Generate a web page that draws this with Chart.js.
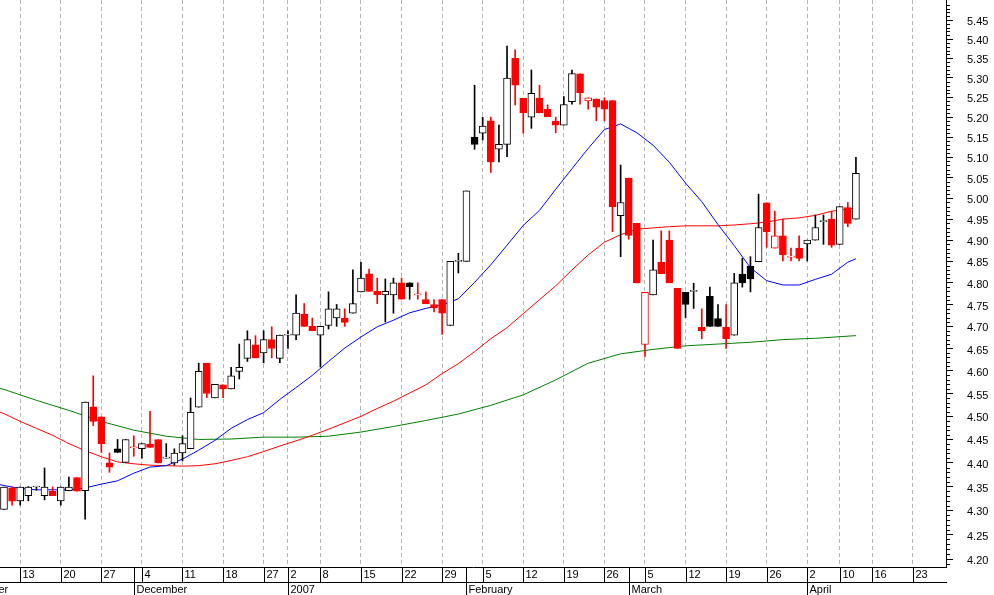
<!DOCTYPE html>
<html>
<head>
<meta charset="utf-8">
<script src="https://cdn.jsdelivr.net/npm/chart.js@4.4.1/dist/chart.umd.min.js"></script>
<style>
  html, body { margin: 0; padding: 0; background: #ffffff; }
  #wrap { width: 994px; height: 595px; position: relative; }
  canvas { display: block; }
</style>
</head>
<body>
<div id="wrap"><canvas id="chart" width="994" height="595"></canvas></div>
<script>
// ---- Daily OHLC (trading day index 0 = 9 Nov 2006 ... 105 = 12 Apr 2007) ----
const opens = [4.302,4.347,4.320,4.331,4.349,4.331,4.340,4.320,4.341,4.369,
4.341,4.521,4.499,4.400,4.430,4.401,4.432,4.430,4.440,4.450,
4.410,4.400,4.421,4.430,4.520,4.617,4.540,4.569,4.560,4.599,
4.628,4.658,4.640,4.670,4.628,4.680,4.680,4.728,4.700,4.680,
4.702,4.719,4.719,4.730,4.779,4.821,4.780,4.772,4.772,4.800,
4.800,4.772,4.761,4.750,4.761,4.702,4.850,4.850,5.150,5.160,
5.191,5.120,5.132,5.350,5.248,5.200,5.248,5.220,5.190,5.180,
5.239,5.310,5.241,5.246,5.242,5.242,4.958,5.049,4.940,4.659,
4.772,4.848,4.900,4.787,4.778,4.780,4.698,4.769,4.718,4.698,
4.680,4.820,4.839,4.849,4.989,4.881,4.910,4.860,4.881,4.891,
4.900,4.944,4.950,4.890,4.978,4.950];

const highs = [4.349,4.349,4.349,4.350,4.349,4.389,4.349,4.349,4.370,4.369,
4.531,4.589,4.499,4.421,4.450,4.450,4.458,4.441,4.511,4.450,
4.441,4.430,4.458,4.540,4.617,4.617,4.570,4.569,4.608,4.660,
4.690,4.679,4.690,4.699,4.680,4.690,4.772,4.752,4.719,4.700,
4.779,4.750,4.740,4.830,4.848,4.832,4.811,4.809,4.811,4.811,
4.800,4.800,4.779,4.761,4.761,4.850,4.869,5.018,5.281,5.200,
5.200,5.180,5.382,5.372,5.248,5.320,5.281,5.231,5.200,5.252,
5.320,5.310,5.249,5.246,5.249,5.242,5.081,5.049,4.940,4.778,
4.900,4.922,4.922,4.787,4.778,4.799,4.740,4.790,4.750,4.750,
4.822,4.857,4.861,5.010,4.989,4.969,4.950,4.881,4.910,4.900,
4.960,4.960,4.969,4.980,4.990,5.100];

const lows = [4.302,4.311,4.311,4.320,4.342,4.322,4.331,4.311,4.341,4.340,
4.282,4.480,4.422,4.380,4.422,4.401,4.414,4.410,4.433,4.400,
4.410,4.395,4.404,4.430,4.520,4.541,4.540,4.541,4.560,4.582,
4.621,4.629,4.618,4.629,4.618,4.650,4.670,4.700,4.690,4.609,
4.694,4.700,4.700,4.730,4.779,4.780,4.752,4.710,4.730,4.762,
4.762,4.762,4.752,4.733,4.682,4.702,4.823,4.850,5.120,5.143,
5.063,5.089,5.102,5.231,5.160,5.172,5.211,5.201,5.161,5.180,
5.233,5.233,5.220,5.191,5.191,4.920,4.861,4.902,4.800,4.632,
4.772,4.821,4.800,4.650,4.720,4.741,4.672,4.700,4.700,4.650,
4.680,4.790,4.779,4.849,4.883,4.881,4.851,4.851,4.851,4.851,
4.900,4.890,4.883,4.890,4.932,4.950];

const closes = [4.349,4.319,4.349,4.349,4.349,4.349,4.331,4.349,4.349,4.340,
4.531,4.489,4.441,4.391,4.422,4.450,4.432,4.441,4.433,4.400,
4.410,4.421,4.441,4.509,4.599,4.550,4.570,4.560,4.589,4.608,
4.670,4.629,4.670,4.650,4.680,4.680,4.730,4.700,4.690,4.700,
4.740,4.740,4.709,4.752,4.811,4.780,4.772,4.780,4.800,4.762,
4.791,4.772,4.752,4.742,4.730,4.850,4.850,5.018,5.132,5.178,
5.089,5.132,5.299,5.281,5.211,5.260,5.211,5.201,5.180,5.232,
5.311,5.262,5.249,5.225,5.220,4.980,4.990,4.911,4.800,4.778,
4.830,4.821,4.800,4.650,4.750,4.780,4.690,4.700,4.700,4.672,
4.800,4.800,4.809,4.930,4.920,4.910,4.865,4.860,4.857,4.900,
4.930,4.944,4.888,4.980,4.940,5.061];

// ---- Moving averages (at trading-day indices) ----
const blueIdx  = [-1,0,2,4,6,8,10,12,14,16,18,20,22,24,26,28,30,32,34,36,38,40,42,44,46,48,50,52,54,56,58,60,62,64,66,68,70,72,74,76,78,80,82,84,86,88,90,92,94,96,98,100,102,104,105];
const blueVals = [4.356,4.352,4.346,4.343,4.343,4.343,4.347,4.355,4.362,4.378,4.391,4.394,4.408,4.427,4.448,4.474,4.493,4.508,4.537,4.563,4.590,4.621,4.651,4.676,4.699,4.714,4.731,4.741,4.749,4.763,4.801,4.842,4.888,4.935,4.971,5.022,5.072,5.122,5.169,5.183,5.161,5.130,5.088,5.037,4.992,4.937,4.887,4.835,4.805,4.795,4.795,4.808,4.820,4.848,4.856];

const redIdx  = [-1,0,2,4,6,8,10,12,14,16,18,20,22,24,26,28,30,32,34,36,38,40,42,44,46,48,50,52,54,56,58,60,62,64,66,68,70,72,74,76,78,80,82,84,86,88,90,92,94,96,98,100,102,104,105];
const redVals = [4.512,4.506,4.489,4.474,4.459,4.441,4.426,4.413,4.402,4.398,4.395,4.394,4.393,4.394,4.398,4.405,4.413,4.424,4.436,4.447,4.459,4.472,4.486,4.500,4.517,4.533,4.551,4.569,4.594,4.616,4.643,4.672,4.697,4.729,4.761,4.793,4.830,4.865,4.895,4.913,4.926,4.929,4.932,4.934,4.934,4.934,4.936,4.939,4.943,4.950,4.953,4.959,4.969,4.974,4.977];

const greenIdx  = [-1,0,4,8,12,16,20,24,28,32,36,40,44,48,52,56,60,64,68,72,76,80,84,88,92,96,100,105];
const greenVals = [4.563,4.559,4.535,4.513,4.489,4.470,4.457,4.450,4.451,4.455,4.455,4.457,4.466,4.478,4.491,4.505,4.524,4.547,4.580,4.617,4.638,4.648,4.656,4.660,4.664,4.670,4.673,4.679];

// ---- Axis ticks ----
const yTickLabels = ['4.20','4.25','4.30','4.35','4.40','4.45','4.50','4.55','4.60','4.65','4.70','4.75','4.80','4.85','4.90','4.95','5.00','5.05','5.10','5.15','5.20','5.25','5.30','5.35','5.40','5.45'];
const weekTickIdx    = [2,7,12,17,22,27,32,35,39,44,49,54,59,64,69,74,79,84,89,94,99,103,107,112];
const weekTickLabels = ['13','20','27','4','11','18','27','2','8','15','22','29','5','12','19','26','5','12','19','26','2','10','16','23'];
const monthTickIdx    = [-6,16,35,57,77,99];
const monthTickLabels = ['November','December','2007','February','March','April'];

const X_MIN = -0.49, X_MAX = 116.1;
const Y_MIN = 4.184, Y_MAX = 5.503;
const FONT = '"Liberation Sans", Arial, Helvetica, sans-serif';

const RED = '#ff0000', BLACK = '#000000', WHITE = '#ffffff';
const idx = opens.map((_, i) => i);
function strokeColor(i) {
  const prev = i > 0 ? closes[i - 1] : opens[i];
  return closes[i] < prev ? RED : BLACK;
}
function fillColor(i) {
  return closes[i] < opens[i] ? strokeColor(i) : WHITE;
}

const axisBand = {
  id: 'axisBand',
  afterDraw(chart) {
    const { ctx, chartArea: a, scales } = chart;
    const xs = scales.x, ys = scales.y;
    const top = a.bottom, mid = a.bottom + 15, bot = chart.height;
    ctx.save();
    ctx.strokeStyle = BLACK; ctx.fillStyle = BLACK; ctx.lineWidth = 1;
    ctx.font = '11px ' + FONT;
    ctx.textBaseline = 'middle'; ctx.textAlign = 'left';
    ctx.beginPath(); ctx.moveTo(a.left, mid + 0.5); ctx.lineTo(a.right + 1, mid + 0.5); ctx.stroke();
    weekTickIdx.forEach((v, k) => {
      const px = Math.round(xs.getPixelForValue(v)) + 0.5;
      ctx.beginPath(); ctx.moveTo(px, top); ctx.lineTo(px, mid); ctx.stroke();
      ctx.fillText(weekTickLabels[k], px + 2, top + 8);
    });
    monthTickIdx.forEach((v, k) => {
      const px = Math.round(xs.getPixelForValue(v)) + 0.5;
      ctx.beginPath(); ctx.moveTo(px, top); ctx.lineTo(px, bot); ctx.stroke();
      ctx.fillText(monthTickLabels[k], px + 2, mid + 7.5);
    });
    // minor ticks on the price axis
    const first = Math.round(parseFloat(yTickLabels[0]) * 100) - 1;
    const last = Math.round(parseFloat(yTickLabels[yTickLabels.length - 1]) * 100) + 5;
    for (let k = first; k <= last; k++) {
      if (k % 5 === 0) continue;
      const py = Math.round(ys.getPixelForValue(k / 100)) + 0.5;
      if (py < a.top || py > a.bottom) continue;
      ctx.beginPath(); ctx.moveTo(a.right, py); ctx.lineTo(a.right + 4, py); ctx.stroke();
    }
    ctx.restore();
  }
};

new Chart(document.getElementById('chart').getContext('2d'), {
  type: 'bar',
  data: {
    datasets: [
      {
        label: 'Body',
        data: idx.map(i => ({ x: i, y: [opens[i], closes[i]] })),
        backgroundColor: idx.map(fillColor),
        borderColor: idx.map(strokeColor),
        borderWidth: 1,
        borderSkipped: false,
        barThickness: 7,
        minBarLength: 1,
        grouped: false,
        order: 0
      },
      {
        label: 'Range',
        data: idx.map(i => ({ x: i, y: [lows[i], highs[i]] })),
        backgroundColor: idx.map(strokeColor),
        borderWidth: 0,
        barThickness: 1,
        grouped: false,
        order: 1
      },
      {
        type: 'line', label: 'MA fast',
        data: blueIdx.map((v, k) => ({ x: v, y: blueVals[k] })),
        borderColor: '#0000ff', borderWidth: 1, pointRadius: 0, tension: 0, order: 2
      },
      {
        type: 'line', label: 'MA medium',
        data: redIdx.map((v, k) => ({ x: v, y: redVals[k] })),
        borderColor: '#ff0000', borderWidth: 1, pointRadius: 0, tension: 0, order: 3
      },
      {
        type: 'line', label: 'MA slow',
        data: greenIdx.map((v, k) => ({ x: v, y: greenVals[k] })),
        borderColor: '#008000', borderWidth: 1, pointRadius: 0, tension: 0, order: 4
      }
    ]
  },
  options: {
    responsive: false,
    animation: false,
    devicePixelRatio: 1,
    layout: { padding: 0 },
    plugins: { legend: { display: false }, tooltip: { enabled: false }, title: { display: false } },
    scales: {
      x: {
        type: 'linear', position: 'bottom', min: X_MIN, max: X_MAX, offset: false, bounds: 'data',
        afterBuildTicks: s => { s.ticks = weekTickIdx.map(v => ({ value: v })); },
        afterFit: s => { s.height = 28; s.paddingLeft = 0; s.paddingRight = 0; },
        ticks: { display: false },
        grid: { display: true, offset: false, drawOnChartArea: true, drawTicks: false, color: '#b4b4b4', lineWidth: 1 },
        border: { display: true, color: BLACK, width: 1, dash: [4, 3] }
      },
      y: {
        type: 'logarithmic', position: 'right', min: Y_MIN, max: Y_MAX, bounds: 'data',
        afterBuildTicks: s => { s.ticks = yTickLabels.map(t => ({ value: parseFloat(t) })); },
        afterFit: s => { s.width = 48; s.paddingTop = 0; s.paddingBottom = 0; },
        ticks: {
          autoSkip: false, padding: 14, labelOffset: 2, color: BLACK,
          font: { family: FONT, size: 11 },
          callback: (v, i) => yTickLabels[i]
        },
        grid: { drawOnChartArea: false, drawTicks: true, tickLength: 7, tickColor: BLACK },
        border: { display: true, color: BLACK, width: 1 }
      }
    }
  },
  plugins: [axisBand]
});
</script>
</body>
</html>
